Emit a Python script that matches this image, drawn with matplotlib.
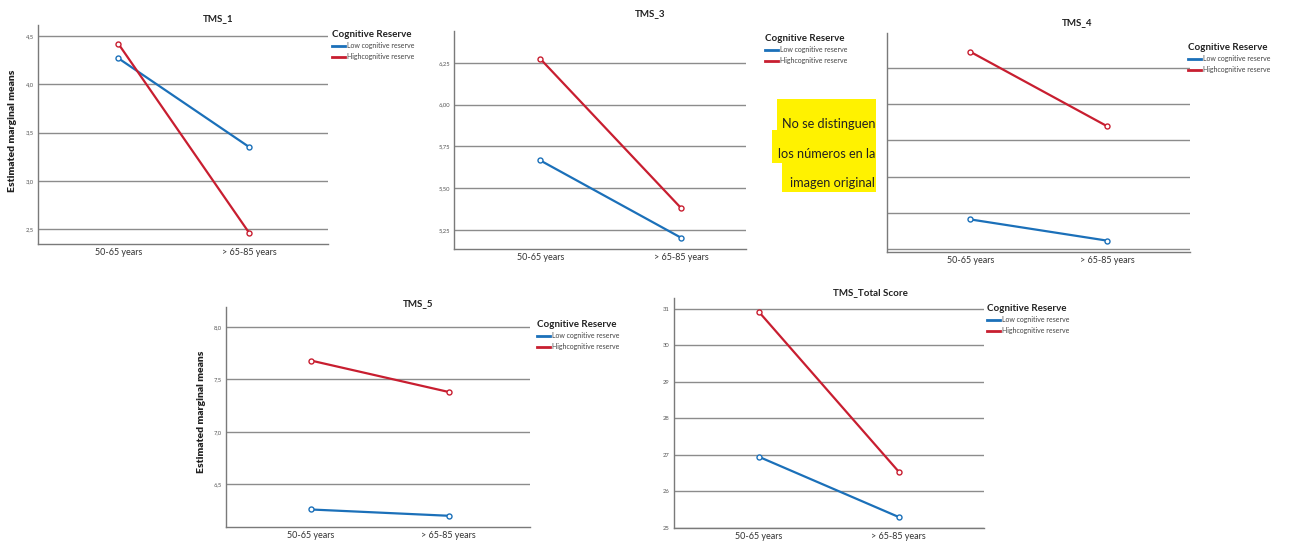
import matplotlib
matplotlib.use("Agg")
import matplotlib.pyplot as plt
from matplotlib.patches import Rectangle

plt.rcParams['font.family'] = ['Lato', 'DejaVu Sans']

# ---------------- data ----------------
groups = ["50-65 years", "> 65-85 years"]
series_names = ["Low cognitive reserve", "Highcognitive reserve"]

tms1_low = [4.27, 3.35]
tms1_high = [4.42, 2.46]
tms1_ticks = [2.5, 3.0, 3.5, 4.0, 4.5]
tms1_ticklabels = ["2,5", "3,0", "3,5", "4,0", "4,5"]

tms3_low = [5.666, 5.204]
tms3_high = [6.274, 5.382]
tms3_ticks = [5.25, 5.50, 5.75, 6.00, 6.25]
tms3_ticklabels = ["5,25", "5,50", "5,75", "6,00", "6,25"]

# TMS_4: numbers unreadable in the original (relative units)
tms4_low = [0.81, 0.22]
tms4_high = [5.46, 3.39]
tms4_ticks = [0, 1, 2, 3, 4, 5]
tms4_ticklabels = ["", "", "", "", "", ""]

tms5_low = [6.26, 6.20]
tms5_high = [7.68, 7.38]
tms5_ticks = [6.5, 7.0, 7.5, 8.0]
tms5_ticklabels = ["6,5", "7,0", "7,5", "8,0"]

total_low = [26.95, 25.30]
total_high = [30.92, 26.54]
total_ticks = [25, 26, 27, 28, 29, 30, 31]
total_ticklabels = ["25", "26", "27", "28", "29", "30", "31"]

# ---------------- style ----------------
W, H = 1308, 546
BLUE = "#1b70b9"
RED = "#c81e30"
GRID = "#8c8c8c"

fig = plt.figure(figsize=(W / 100, H / 100), dpi=100)


def fx(px):
    return px / W


def fy(py):
    return 1 - py / H


def px_axes(l, t, r, b):
    return fig.add_axes([fx(l), fy(b), (r - l) / W, (b - t) / H])


panels = [
    dict(title="TMS_1", box=(38, 25, 328, 244), xlim=(-0.613, 1.60), ylim=(2.348, 4.614),
         ticks=tms1_ticks, labels=tms1_ticklabels, low=tms1_low, high=tms1_high,
         title_xy=(218, 19), leg_xy=(332, 30), ylabel_xy=(13, 131)),
    dict(title="TMS_3", box=(454, 31, 746, 249), xlim=(-0.613, 1.463), ylim=(5.136, 6.44),
         ticks=tms3_ticks, labels=tms3_ticklabels, low=tms3_low, high=tms3_high,
         title_xy=(650, 14), leg_xy=(765, 34), ylabel_xy=None),
    dict(title="TMS_4", box=(887, 33, 1190, 252), xlim=(-0.607, 1.602), ylim=(-0.094, 5.98),
         ticks=tms4_ticks, labels=tms4_ticklabels, low=tms4_low, high=tms4_high,
         title_xy=(1077, 23), leg_xy=(1188, 43), ylabel_xy=None),
    dict(title="TMS_5", box=(226, 307, 530, 527), xlim=(-0.614, 1.589), ylim=(6.093, 8.19),
         ticks=tms5_ticks, labels=tms5_ticklabels, low=tms5_low, high=tms5_high,
         title_xy=(418, 304), leg_xy=(537, 320), ylabel_xy=(202, 412)),
    dict(title="TMS_Total Score", box=(674, 298, 984, 528), xlim=(-0.607, 1.609), ylim=(25.0, 31.3),
         ticks=total_ticks, labels=total_ticklabels, low=total_low, high=total_high,
         title_xy=(870, 293), leg_xy=(987, 304), ylabel_xy=None),
]

for p in panels:
    l, t, r, b = p["box"]
    ax = px_axes(l, t, r, b)
    ax.plot(groups, p["low"], color=BLUE, lw=1.6, marker="o", ms=3.6,
            mfc="white", mec=BLUE, mew=1.0, label=series_names[0], zorder=3)
    ax.plot(groups, p["high"], color=RED, lw=1.6, marker="o", ms=3.6,
            mfc="white", mec=RED, mew=1.0, label=series_names[1], zorder=3)
    ax.set_xlim(*p["xlim"])
    ax.set_ylim(*p["ylim"])
    ax.set_yticks(p["ticks"])
    ax.set_yticklabels(p["labels"])
    ax.yaxis.grid(True, color=GRID, lw=1.0)
    ax.set_axisbelow(True)
    for s in ["top", "right"]:
        ax.spines[s].set_visible(False)
    for s in ["left", "bottom"]:
        ax.spines[s].set_color("#7a7a7a")
        ax.spines[s].set_linewidth(1.0)
    ax.tick_params(axis="y", length=0, labelsize=4.2, labelcolor="#555555", pad=3)
    ax.tick_params(axis="x", length=0, labelsize=6.5, labelcolor="#333333", pad=3)

    fig.text(fx(p["title_xy"][0]), fy(p["title_xy"][1]), p["title"], ha="center",
             va="center", fontsize=7, fontweight="bold", color="#222222")

    leg = ax.legend(loc="upper left", bbox_to_anchor=(fx(p["leg_xy"][0]), fy(p["leg_xy"][1])),
                    bbox_transform=fig.transFigure, frameon=False, fontsize=5,
                    title="Cognitive Reserve", alignment="left", handlelength=1.9,
                    handletextpad=0.3, labelspacing=0.5, borderpad=0, borderaxespad=0)
    leg.get_title().set_fontsize(7)
    leg.get_title().set_fontweight("bold")
    leg.get_title().set_color("#222222")
    for txt in leg.get_texts():
        txt.set_color("#444444")
    for ln in leg.get_lines():
        ln.set_linewidth(2.0)
        ln.set_marker("")

    if p["ylabel_xy"] is not None:
        fig.text(fx(p["ylabel_xy"][0]), fy(p["ylabel_xy"][1]), "Estimated marginal means",
                 rotation=90, ha="center", va="center", fontsize=7.5, fontweight="heavy",
                 color="#222222")

# yellow note
note_lines = ["No se distinguen", "los números en la", "imagen original"]
note_boxes = [(777, 99, 876, 130), (772, 130, 876, 163), (782, 163, 876, 192)]
note_y = [124, 154, 183]
for txt, (l, t, r, b), yy in zip(note_lines, note_boxes, note_y):
    fig.patches.append(Rectangle((fx(l), fy(b)), (r - l) / W, (b - t) / H,
                                 transform=fig.transFigure, facecolor="#fff200",
                                 edgecolor="none", zorder=5))
    fig.text(fx(875), fy(yy), txt, ha="right", va="center", fontsize=9.2,
             color="#222222", zorder=6)

fig.savefig("out.png", dpi=100)
